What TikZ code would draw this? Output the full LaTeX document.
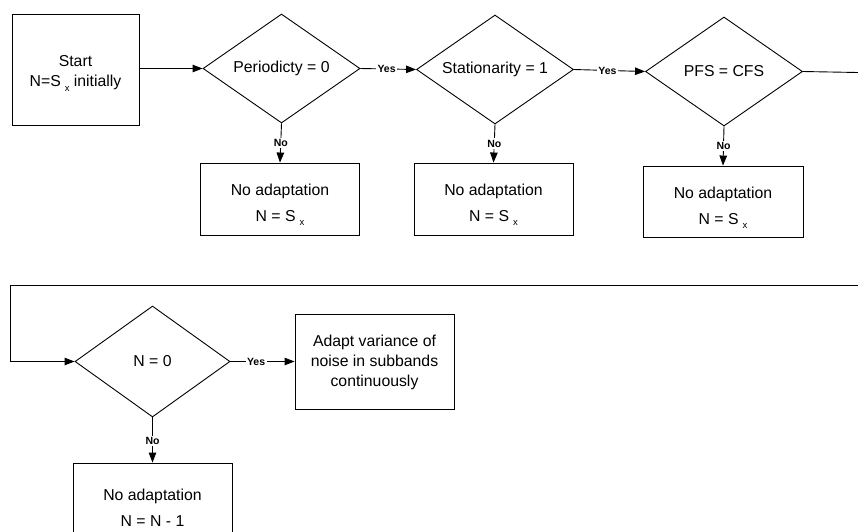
\documentclass[tikz,border=0pt]{standalone}
\usepackage{fontspec}
\setmainfont{Liberation Sans}
\usetikzlibrary{shapes.geometric,arrows.meta}

% lowered subscript x used in "S x"
\newcommand{\subx}{\hspace{0.25em}\raisebox{-0.5ex}{\fontsize{9.5}{9.5}\selectfont x}}

\tikzset{
  every picture/.style={line width=0.9pt},
  base/.style={font=\fontsize{15.8}{20}\selectfont, align=center, inner sep=0pt},
  frame/.style={draw, rectangle, inner sep=0pt, minimum width=159pt, minimum height=72pt},
  decision/.style={base, draw, diamond, aspect=1.44, minimum width=157pt, minimum height=109pt},
  flow/.style={-{Triangle[length=10pt,width=7.5pt]}},
  tag/.style={font=\bfseries\fontsize{10.5}{11}\selectfont, fill=white, inner sep=1.5pt}
}

\begin{document}
\begin{tikzpicture}[x=1pt,y=-1pt]
  \useasboundingbox (0,0) rectangle (858,531);
  \clip (0,0) rectangle (858,531);

  % first row
  \node[frame, minimum width=127pt, minimum height=111pt] (start) at (75.5,69.5) {};
  \node[base] (startt) at ([yshift=-4pt]start.center) {Start\\N=S\subx{} initially};
  \node[decision] (d1) at (281.5,68.5) {Periodicty = 0};
  \node[decision] (d2) at (495,69.5) {Stationarity = 1};
  \node[decision] (d3) at (724,71.5) {PFS = CFS};

  \node[frame] (b1) at (280,199) {};
  \node[base] (b1t) at ([yshift=-6pt]b1.center) {No adaptation\\[6pt]N = S\subx};
  \node[frame] (b2) at (493.5,199) {};
  \node[base] (b2t) at ([yshift=-6pt]b2.center) {No adaptation\\[6pt]N = S\subx};
  \node[frame, minimum width=160pt, minimum height=71pt] (b3) at (723,201.5) {};
  \node[base] (b3t) at ([yshift=-6pt]b3.center) {No adaptation\\[6pt]N = S\subx};

  % second row
  \node[decision, minimum width=155pt, minimum height=111pt] (d4) at (152.5,361.5) {N = 0};
  \node[frame, minimum height=95pt] (adapt) at (374.5,361.5) {};
  \node[base] (adaptt) at ([yshift=-1pt]adapt.center)
    {Adapt variance of\\noise in subbands\\continuously};
  \node[frame] (b4) at (152.5,499) {};
  \node[base] (b4t) at ([yshift=-9pt]b4.center) {No adaptation\\[6pt]N = N - 1};

  \coordinate (e1) at (858,72.5);
  \coordinate (e2) at (858,285);
  \coordinate (loop) at (10,285);

  % connectors
  \draw[flow] (start.east |- d1.west) -- (d1.west);
  \draw[flow] (d1.east) -- node[tag, pos=0.47] {Yes} (d2.west);
  \draw[flow] (d2.east) -- node[tag, pos=0.47] {Yes} (d3.west);
  \draw (d3.east) -- (e1);

  \draw[flow] (d1.south) -- node[tag] {No} (b1.north);
  \draw[flow] (d2.south) -- node[tag] {No} (b2.north);
  \draw[flow] (d3.south) -- node[tag] {No} (b3.north);

  \draw[flow] (e2) -- (loop) |- (d4.west);
  \draw[flow] (d4.east) -- node[tag, pos=0.4] {Yes} (adapt.west);
  \draw[flow] (d4.south) -- node[tag, pos=0.52] {No} (b4.north);
\end{tikzpicture}
\end{document}
